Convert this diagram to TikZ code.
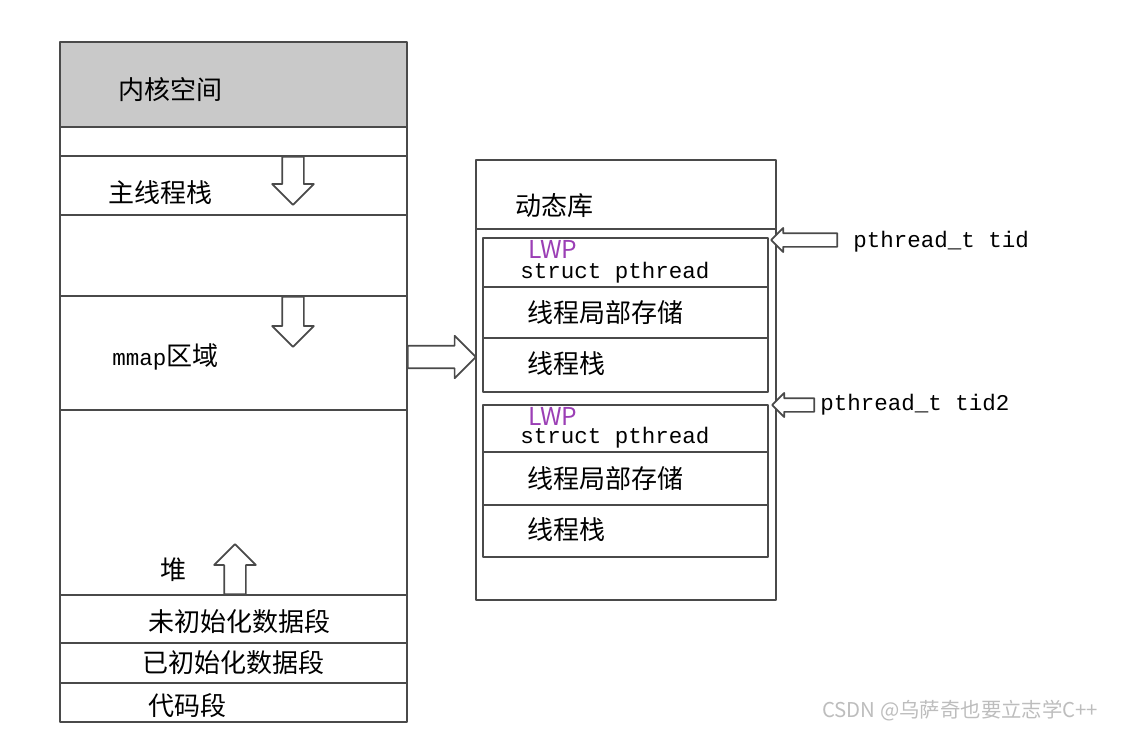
\documentclass[tikz,border=0pt]{standalone}
\usepackage{fontspec}
\setmainfont{Noto Sans CJK SC}
\newfontfamily\codefont{Liberation Mono}
\usetikzlibrary{shapes.arrows,positioning}
\definecolor{FigureLine}{HTML}{4A4A4A}
\definecolor{FigureGray}{HTML}{C9C9C9}
\definecolor{FigurePurple}{HTML}{9B3FB5}
\definecolor{FigureMark}{HTML}{BDBDBD}

\begin{document}
\begin{tikzpicture}[x=0.025cm,y=-0.025cm,line cap=round,line join=round,
  frame/.style={draw=FigureLine,line width=1.4pt},
  seg/.style={anchor=west,inner sep=0pt,font=\fontsize{18.5}{19}\selectfont},
  code/.style={anchor=west,inner sep=0pt,font=\codefont\fontsize{16}{16}\selectfont},
  lwp/.style={anchor=west,inner sep=0pt,text=FigurePurple,font=\fontsize{17.5}{18}\selectfont},
  hollow/.style={single arrow,draw=FigureLine,line width=1.2pt,fill=white,inner xsep=0pt,
    inner ysep=0.25cm,single arrow head extend=0.25cm,anchor=tail},
  thin/.style={inner ysep=0.15cm,single arrow head extend=0.13cm}]
  \useasboundingbox (0,0) rectangle (1124,731);
  % process address space
  \fill[FigureGray] (60,42) rectangle (407,127);
  \draw[frame] (60,42) rectangle (407,722);
  \foreach \y in {127,156,215,296,410,595,643,683}{\draw[frame] (60,\y) -- (407,\y);}
  \node[seg] (kernel) at (118,90) {内核空间};
  \node[seg] (mainstack) at (108,193) {主线程栈};
  \node[seg] (mmap) at (112,357) {{\codefont\fontsize{16}{16}\selectfont mmap}区域};
  \node[seg] (heap) at (160,570) {堆};
  \node[seg] (bss) at (148,622) {未初始化数据段};
  \node[seg] (data) at (142,663) {已初始化数据段};
  \node[seg] (text) at (148,706) {代码段};
  \node[hollow,rotate=-90,minimum height=1.2cm] (down1) at (293,156) {};
  \node[hollow,rotate=-90,minimum height=1.25cm] (down2) at (293,296) {};
  \node[hollow,rotate=90,minimum height=1.25cm] (up) at (235,595) {};
  % shared library region
  \node[hollow,minimum height=1.7cm,inner ysep=0.26cm] (tolib) at (407,357) {};
  \draw[frame] (476,160) rectangle (776,600);
  \draw[frame] (476,229) -- (776,229);
  \node[seg] (lib) at (515,206) {动态库};
  \foreach \t/\a/\b/\c [count=\i] in {238/287/338/392,405/452/505/557}{
    \draw[frame] (483,\t) rectangle (768,\c);
    \draw[frame] (483,\a) -- (768,\a);
    \draw[frame] (483,\b) -- (768,\b);
    \node[lwp] (lwp\i) at (528,\t+11) {LWP};
    \node[code] (pt\i) at (520,\a-14) {struct pthread};
    \node[seg] (tls\i) at (527,{(\a+\b)/2}) {线程局部存储};
    \node[seg] (stk\i) at (527,{(\b+\c)/2-1}) {线程栈};
  }
  \node[hollow,thin,rotate=180,minimum height=1.65cm] (tidarrow) at (838,240) {};
  \node[hollow,thin,rotate=180,minimum height=1.05cm] (tid2arrow) at (815,405) {};
  \node[code] (tid) at (853,242) {pthread\_t tid};
  \node[code] (tid2) at (820,405) {pthread\_t tid2};
  \node[anchor=west,inner sep=0pt,text=FigureMark,font=\fontsize{14.5}{15}\selectfont] (mark) at (822,711) {CSDN @乌萨奇也要立志学C++};
\end{tikzpicture}
\end{document}
